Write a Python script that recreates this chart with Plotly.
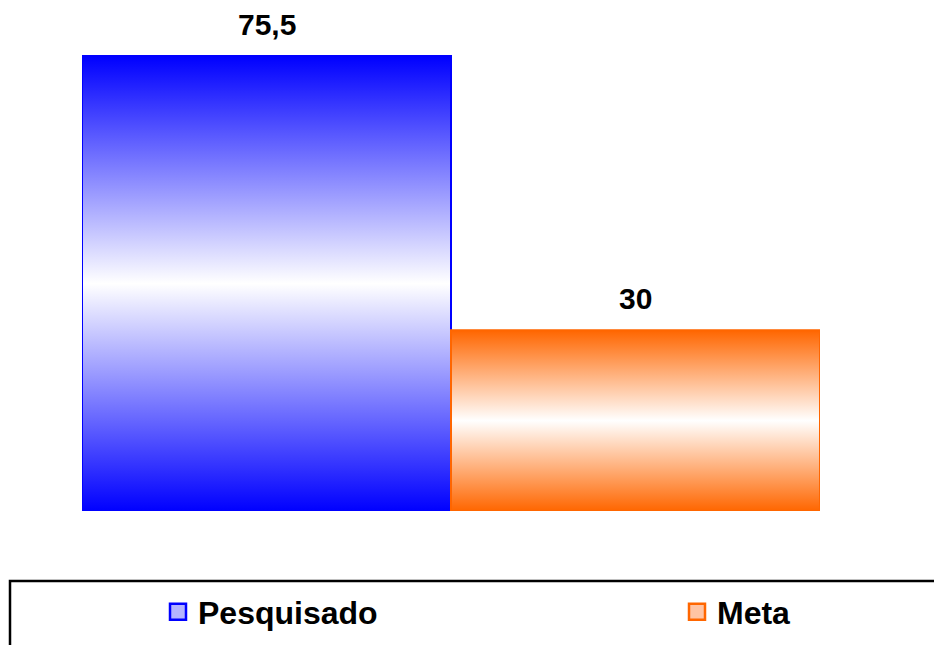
import plotly.graph_objects as go

categories = ["Pesquisado", "Meta"]
values = [75.5, 30]
labels = ["75,5", "30"]
colors = ["#0000ff", "#ff6600"]
legend_fill = ["#b4b4ff", "#ffc4a4"]

FONT = "Liberation Sans, Arial, sans-serif"

OFF = 0  # body margin removed by post_script below
W, H = 934, 645
L, R, B = 82 - OFF, W - (820 - OFF), H - (511 - OFF)
YMAX = 80
PW = W - L - R
PH_PER_UNIT = (511 - 56) / 75.5
PH = YMAX * PH_PER_UNIT
T = H - B - PH


def px_to_paper_x(px):
    return (px - OFF - L) / PW


def px_to_paper_y(py):
    return ((H - B) - (py - OFF)) / PH


fig = go.Figure()
for i, (name, v, c) in enumerate(zip(categories, values, colors)):
    x0, x1 = i - 0.5, i + 0.5
    fig.add_trace(go.Scatter(
        x=[x0, x0, x1, x1, x0], y=[0, v, v, 0, 0],
        mode="lines", fill="toself", name=name, showlegend=False,
        line=dict(color=c, width=2),
        fillgradient=dict(type="vertical",
                          colorscale=[[0, c], [0.5, "#ffffff"], [1, c]]),
        hoverinfo="skip",
    ))
    fig.add_annotation(x=i, y=v, text=labels[i], showarrow=False,
                       yanchor="bottom", yshift=14, borderpad=0,
                       font=dict(family=FONT, size=30, color="black", weight="bold"))

# legend entries (one legend per entry so they can sit far apart)
legend_names = ["legend", "legend2"]
legend_px = [158, 677]
for i, (name, c) in enumerate(zip(categories, colors)):
    fig.add_trace(go.Scatter(
        x=[None], y=[None], mode="markers", name=name,
        legend=legend_names[i],
        marker=dict(symbol="square", size=16, color=legend_fill[i],
                    line=dict(color=c, width=2.5)),
    ))

fig.add_shape(type="rect", xref="paper", yref="paper",
              x0=px_to_paper_x(10), x1=px_to_paper_x(950),
              y0=px_to_paper_y(581), y1=px_to_paper_y(670),
              line=dict(color="black", width=2.5), fillcolor="rgba(0,0,0,0)")

legend_common = dict(orientation="h", xanchor="left", yanchor="middle",
                     xref="container", yref="container",
                     itemsizing="trace",
                     font=dict(family=FONT, size=32, color="black", weight="bold"),
                     bgcolor="rgba(0,0,0,0)", borderwidth=0)

fig.update_layout(
    width=W, height=H,
    margin=dict(l=L, r=R, t=T, b=B, pad=0),
    paper_bgcolor="white", plot_bgcolor="white",
    xaxis=dict(range=[-0.5, 1.5], visible=False, fixedrange=True),
    yaxis=dict(range=[0, YMAX], visible=False, fixedrange=True),
    showlegend=True,
    legend=dict(x=(legend_px[0] - OFF) / W, y=(H - (612 - OFF)) / H, **legend_common),
    legend2=dict(x=(legend_px[1] - OFF) / W, y=(H - (612 - OFF)) / H, **legend_common),
)

fig.write_html(
    "out.html",
    config={"displayModeBar": False},
    post_script="document.body.style.margin='0px';document.body.style.overflow='hidden';",
)
